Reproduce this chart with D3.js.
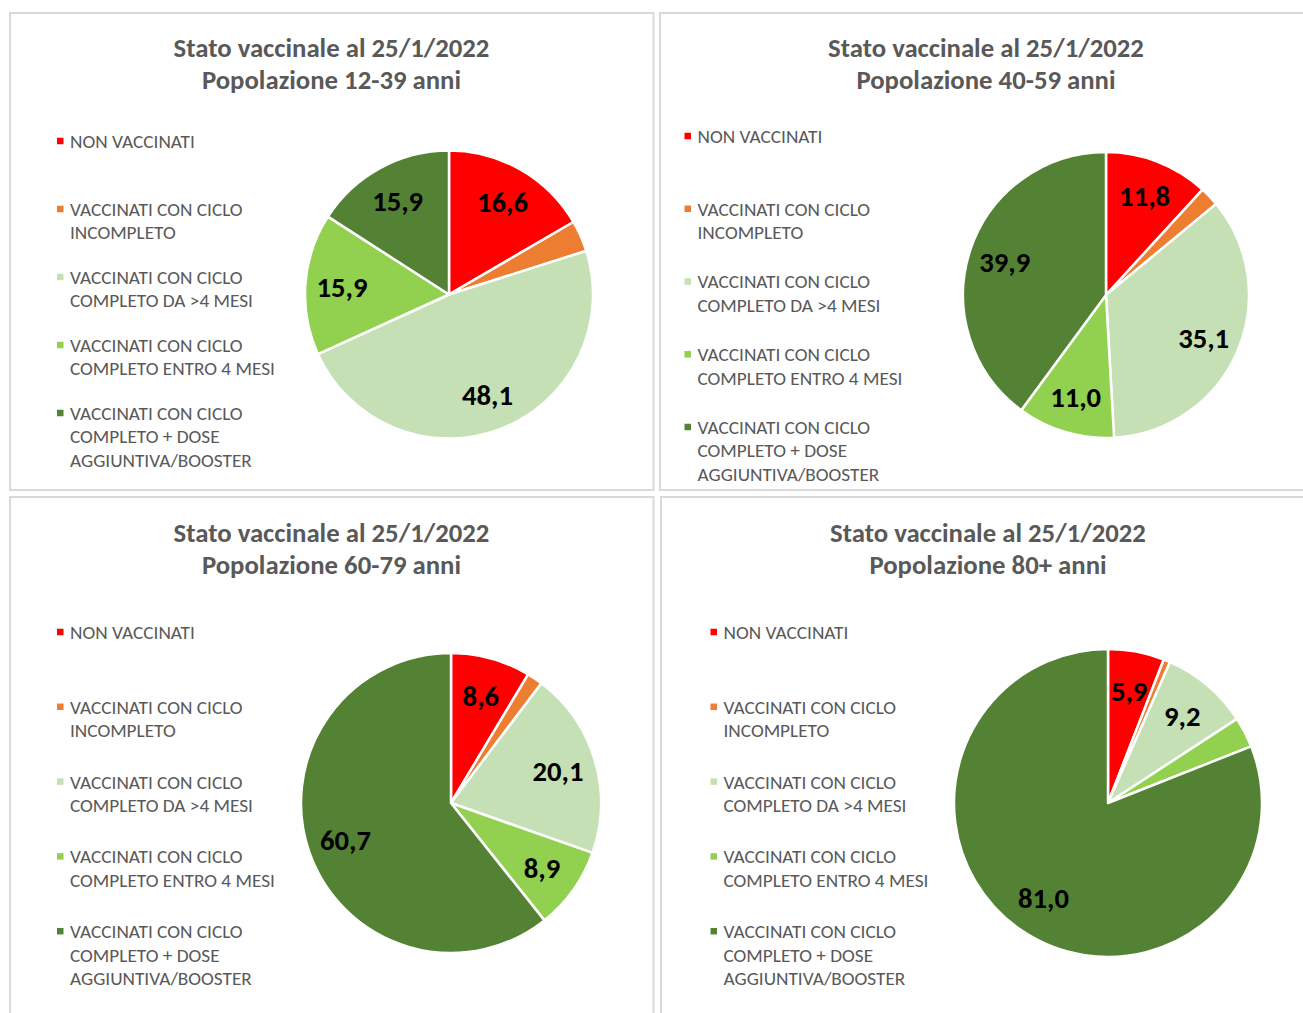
<!DOCTYPE html>
<html><head><meta charset="utf-8">
<script src="https://cdn.jsdelivr.net/npm/d3@7"></script>
<style>body{margin:0;background:#fff} svg{display:block}</style>
</head><body>
<svg id="c" width="1303" height="1013"></svg>
<script>
// ---- data ----
const categories = ["NON VACCINATI","VACCINATI CON CICLO INCOMPLETO","VACCINATI CON CICLO COMPLETO DA >4 MESI","VACCINATI CON CICLO COMPLETO ENTRO 4 MESI","VACCINATI CON CICLO COMPLETO + DOSE AGGIUNTIVA/BOOSTER"];
const legendLines = [["NON VACCINATI"],["VACCINATI CON CICLO","INCOMPLETO"],["VACCINATI CON CICLO","COMPLETO DA >4 MESI"],["VACCINATI CON CICLO","COMPLETO ENTRO 4 MESI"],["VACCINATI CON CICLO","COMPLETO + DOSE","AGGIUNTIVA/BOOSTER"]];
const colors = ["#FF0000","#ED7D31","#C5E0B4","#92D050","#548235"];
const titleLine1 = "Stato vaccinale al 25/1/2022";
const ageGroups = ["12-39 anni","40-59 anni","60-79 anni","80+ anni"];
const values1239 = [16.6, 3.5, 48.1, 15.9, 15.9];
const values4059 = [11.8, 2.2, 35.1, 11.0, 39.9];
const values6079 = [8.6, 1.7, 20.1, 8.9, 60.7];
const values80   = [5.9, 0.7, 9.2, 3.2, 81.0];
const seriesList = [values1239, values4059, values6079, values80];

// ---- layout ----
const layout = [
  {x:10, y:13, w:643.5, h:477, tx:331.5, ty:57, cx:449, cy:294.5, r:144, lx:57, ly:141, step:68},
  {x:660, y:13, w:700, h:477, tx:986, ty:57, cx:1106, cy:295, r:143, lx:684.5, ly:136, step:72.75},
  {x:10, y:497, w:643.5, h:600, tx:331.5, ty:542, cx:451, cy:803, r:150, lx:57, ly:632, step:74.8},
  {x:661, y:497, w:700, h:600, tx:988, ty:542, cx:1108, cy:803, r:154, lx:710.5, ly:632, step:74.8}
];
const FONT = "Carlito, Calibri, Lato, 'Open Sans', sans-serif";
const svg = d3.select("#c");
svg.append("rect").attr("width",1303).attr("height",1013).attr("fill","#fff");

function fitSize(str, weight, target){
  const t = svg.append("text").attr("font-family",FONT).attr("font-weight",weight).attr("font-size",100).text(str);
  const w = t.node().getComputedTextLength(); t.remove();
  return 100*target/w;
}
const titleSize = fitSize(titleLine1, "bold", 316);
const legendSize = fitSize("COMPLETO ENTRO 4 MESI", "normal", 205);
const labelSize = fitSize("48,1", "bold", 51);

const locale = d3.formatLocale({decimal:",", thousands:".", grouping:[3], currency:["","€"]});
const fmt = locale.format(".1f");
const color = d3.scaleOrdinal().domain(categories).range(colors);
const pie = d3.pie().sort(null).value(d => d.value);

seriesList.forEach((vals, i) => {
  const L = layout[i];
  const g = svg.append("g");
  g.append("rect").attr("x",L.x).attr("y",L.y).attr("width",L.w).attr("height",L.h)
    .attr("fill","#fff").attr("stroke","#d9d9d9").attr("stroke-width",2);
  // title
  const t = g.append("text").attr("x",L.tx).attr("y",L.ty).attr("text-anchor","middle")
    .attr("font-family",FONT).attr("font-weight","bold").attr("font-size",titleSize).attr("fill","#595959");
  t.append("tspan").attr("x",L.tx).text(titleLine1);
  t.append("tspan").attr("x",L.tx).attr("dy",32).text("Popolazione " + ageGroups[i]);
  // pie
  const data = categories.map((c,k) => ({cat:c, value:vals[k]}));
  const arcs = pie(data);
  const arc = d3.arc().innerRadius(0).outerRadius(L.r);
  const labelArc = d3.arc().innerRadius(L.r*0.745).outerRadius(L.r*0.745);
  const pg = g.append("g").attr("transform",`translate(${L.cx},${L.cy})`);
  pg.selectAll("path").data(arcs).join("path")
    .attr("d",arc).attr("fill",d=>color(d.data.cat)).attr("stroke","#fff").attr("stroke-width",2.5).attr("stroke-linejoin","round");
  pg.selectAll("text").data(arcs.filter(d => d.data.value >= 5)).join("text")
    .attr("transform",d=>`translate(${labelArc.centroid(d)})`)
    .attr("text-anchor","middle").attr("dy","0.36em")
    .attr("font-family",FONT).attr("font-weight","bold").attr("font-size",labelSize).attr("fill","#000")
    .text(d=>fmt(d.data.value));
  // legend
  categories.forEach((c,k) => {
    const y0 = L.ly + k*L.step;
    g.append("rect").attr("x",L.lx).attr("y",y0-3.25).attr("width",6.5).attr("height",6.5).attr("fill",color(c));
    const lt = g.append("text").attr("font-family",FONT).attr("font-size",legendSize).attr("fill","#595959");
    legendLines[k].forEach((line,j) => {
      lt.append("tspan").attr("x",L.lx+13).attr("y",y0 + j*23.5).attr("dy","0.36em").text(line);
    });
  });
});
</script>
</body></html>
